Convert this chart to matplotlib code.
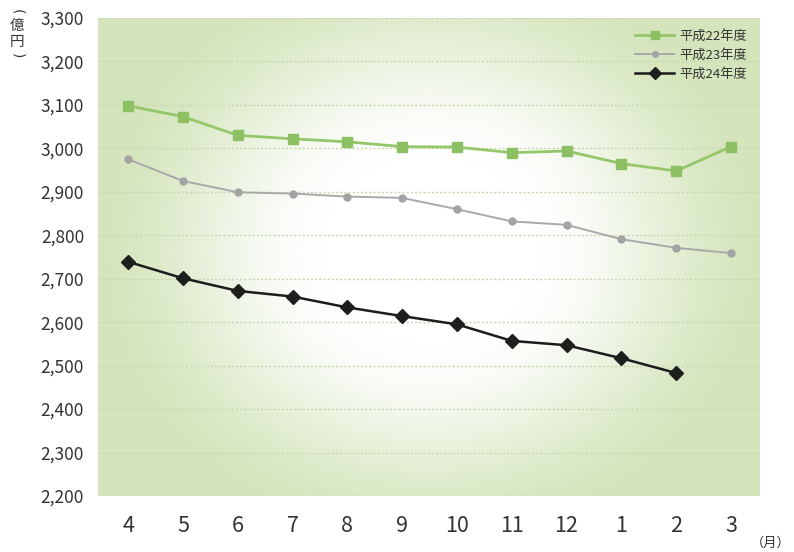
import numpy as np
import matplotlib
matplotlib.use("Agg")
import matplotlib.pyplot as plt
from matplotlib.colors import LinearSegmentedColormap

plt.rcParams['font.family'] = ['Noto Sans CJK JP', 'DejaVu Sans']

months = ['4', '5', '6', '7', '8', '9', '10', '11', '12', '1', '2', '3']
h22 = [3098, 3073, 3030, 3022, 3015, 3004, 3003, 2990, 2994, 2965, 2948, 3004]
h23 = [2975, 2925, 2899, 2896, 2889, 2886, 2860, 2832, 2824, 2791, 2771, 2759]
h24 = [2739, 2701, 2672, 2659, 2634, 2614, 2595, 2557, 2547, 2517, 2483]
series_names = ['平成22年度', '平成23年度', '平成24年度']
yticks = list(range(2200, 3301, 100))

W, H = 794, 552
fig = plt.figure(figsize=(W / 100, H / 100), dpi=100)
L, R, T, B = 98, 760, 18, 496
ax = fig.add_axes([L / W, 1 - B / H, (R - L) / W, (B - T) / H])

xlim = (-0.55, 11.53)
ylim = (2200, 3300)
ax.set_xlim(*xlim)
ax.set_ylim(*ylim)

# background radial gradient (white centre, light green edges)
nx, ny = 400, 300
px = np.linspace(L, R, nx)
py = np.linspace(T, B, ny)
PX, PY = np.meshgrid(px, py)
cx, cy, rx, ry = 430, 250, 330, 290
t = np.sqrt(((PX - cx) / rx) ** 2 + ((PY - cy) / ry) ** 2)
t = np.clip((t - 0.3) / 0.75, 0, 1)
t = t * t * (3 - 2 * t)
cmap = LinearSegmentedColormap.from_list('bg', ['#ffffff', '#d4e5bc'])
ax.imshow(t, cmap=cmap, vmin=0, vmax=1, extent=[xlim[0], xlim[1], ylim[0], ylim[1]],
          aspect='auto', origin='upper', zorder=0, interpolation='bilinear')

for y in yticks:
    ax.axhline(y, color='#c6d6ad', lw=1.0, ls=(0, (1.5, 1.5)), zorder=1)

x = np.arange(len(months))
ax.plot(x, h22, color='#95c66a', lw=2.0, marker='s', ms=6.5, mfc='#8cc062', mec='#8cc062',
        label=series_names[0], zorder=3)
ax.plot(x, h23, color='#a9a9a9', lw=1.4, marker='o', ms=5, mfc='#a3a3a3', mec='#a3a3a3',
        label=series_names[1], zorder=3)
ax.plot(x[:len(h24)], h24, color='#1c1c1c', lw=1.8, marker='D', ms=7.5, mfc='#1c1f1c', mec='#1c1f1c',
        label=series_names[2], zorder=3)

ax.set_xticks(x)
ax.set_xticklabels(months, fontsize=15.5, color='#333333')
ax.set_yticks(yticks)
ax.set_yticklabels([f'{v:,}' for v in yticks], fontsize=12.5, color='#333333')
ax.tick_params(axis='both', length=0)
ax.tick_params(axis='x', pad=14)
ax.tick_params(axis='y', pad=10)
for s in ax.spines.values():
    s.set_visible(False)

leg = ax.legend(loc='upper right', bbox_to_anchor=(0.995, 0.995), frameon=False, fontsize=9.5,
                handlelength=3.0, handletextpad=0.4, labelspacing=0.45, borderaxespad=0.3,
                markerscale=0.8)
for txt in leg.get_texts():
    txt.set_color('#333333')

vx = 17 / W
fig.text(vx, 1 - 12 / H, '(', fontsize=10, rotation=-90, ha='center', va='center',
         family='DejaVu Sans', color='#333333')
fig.text(vx, 1 - 26 / H, '億', fontsize=10.5, ha='center', va='center', color='#333333')
fig.text(vx, 1 - 42 / H, '円', fontsize=10.5, ha='center', va='center', color='#333333')
fig.text(vx, 1 - 56 / H, ')', fontsize=10, rotation=-90, ha='center', va='center',
         family='DejaVu Sans', color='#333333')
fig.text(771 / W, 1 - 543 / H, '（月）', fontsize=9.5, ha='center', va='center', color='#333333')

fig.savefig('out.png', dpi=100)
